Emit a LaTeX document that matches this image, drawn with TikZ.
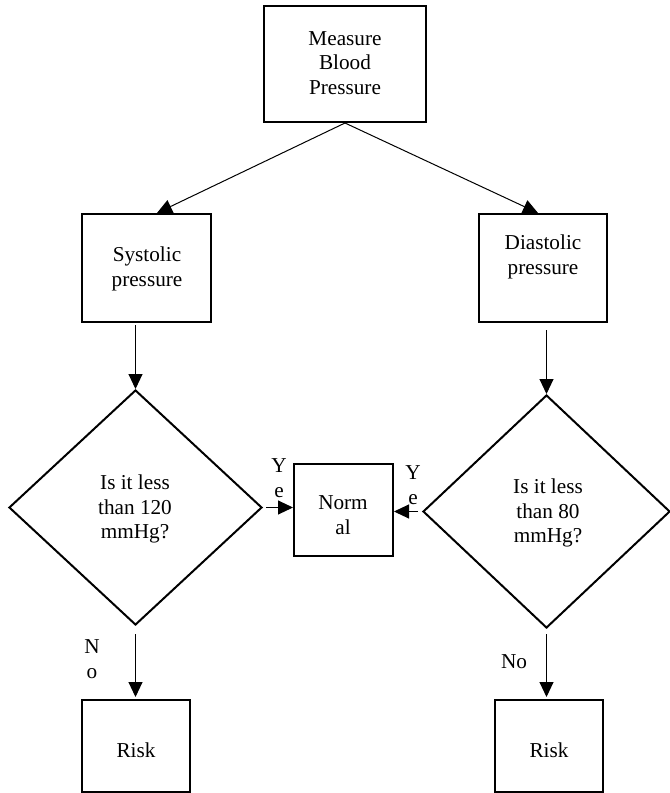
\documentclass[tikz,border=0pt]{standalone}
\usepackage{fontspec}
\setmainfont{Liberation Serif}
\usetikzlibrary{shapes.geometric,arrows.meta,calc}
\begin{document}
\begin{tikzpicture}[x=1bp,y=-1bp,
  box/.style={draw,line width=2bp,rectangle,inner sep=0pt},
  dia/.style={draw,line width=2bp,diamond,inner sep=0pt},
  txt/.style={inner sep=0pt,align=center,font=\fontsize{21.3}{24.5}\selectfont},
  conn/.style={line width=1bp,-{Triangle[length=15bp,width=14bp]}}]
\useasboundingbox (0,0) rectangle (670,793);
% boxes
\node[box,minimum width=162bp,minimum height=116bp] (top) at (345,64) {};
\node[box,minimum width=129bp,minimum height=108bp] (sys) at (146.5,268) {};
\node[box,minimum width=128bp,minimum height=108bp] (dias) at (543,268) {};
\node[dia,minimum width=253bp,minimum height=235bp] (ld) at (135.5,507.5) {};
\node[dia,minimum width=247bp,minimum height=233bp] (rd) at (546.5,511.5) {};
\node[box,minimum width=99bp,minimum height=92bp] (norm) at (343.5,510) {};
\node[box,minimum width=108bp,minimum height=92bp] (riskl) at (136,746) {};
\node[box,minimum width=108bp,minimum height=92bp] (riskr) at (549,746) {};
% texts
\node[txt] (ttop) at (345,63) {Measure\\Blood\\Pressure};
\node[txt] (tsys) at (147,269) {Systolic\\pressure};
\node[txt] (tdias) at (543,257) {Diastolic\\pressure};
\node[txt] (tld) at (135,509) {Is it less\\than 120\\mmHg?};
\node[txt] (trd) at (548,513) {Is it less\\than 80\\mmHg?};
\node[txt] (tnorm) at (343,515) {Norm\\al};
\node[txt] (triskl) at (136,750) {Risk};
\node[txt] (triskr) at (549,750) {Risk};
\node[txt] (yl) at (279,478) {Y\\e};
\node[txt] (yr) at (413,485) {Y\\e};
\node[txt] (nl) at (92,659) {N\\o};
\node[txt] (nr) at (514,662) {No};
% connectors
\draw[conn] (top.south) -- ($(sys.north)+(10.5,0)$);
\draw[conn] (top.south) -- ($(dias.north)+(-5,0)$);
\draw[conn,shorten <=2bp] (ld.north |- sys.south) -- (ld.north);
\draw[conn,shorten <=7bp] (rd.north |- dias.south) -- (rd.north);
\draw[conn,shorten <=3bp] (ld.east) -- (ld.east -| norm.west);
\draw[conn,shorten <=4bp] (rd.west) -- (rd.west -| norm.east);
\draw[conn,shorten <=8bp,shorten >=2bp] (ld.south) -- (ld.south |- riskl.north);
\draw[conn,shorten <=5bp,shorten >=2bp] (rd.south) -- (rd.south |- riskr.north);
\end{tikzpicture}
\end{document}
